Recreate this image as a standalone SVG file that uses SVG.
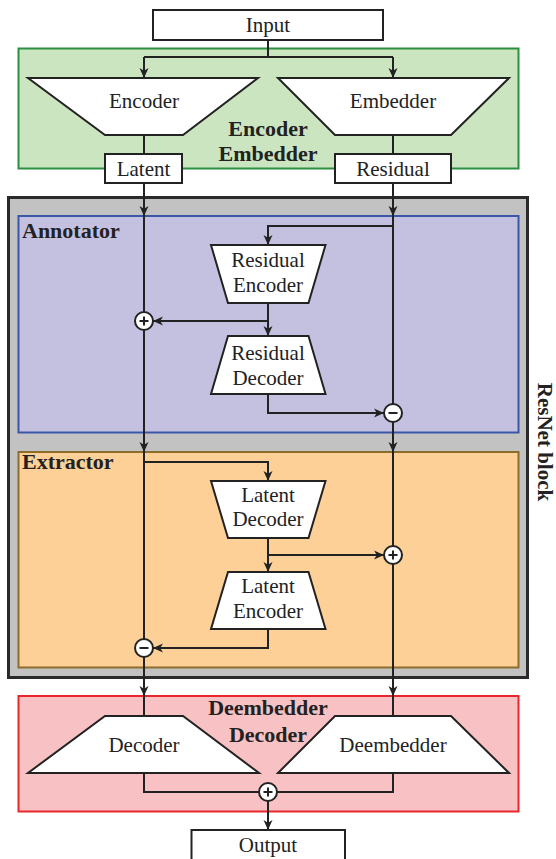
<svg xmlns="http://www.w3.org/2000/svg" width="556" height="859" viewBox="0 0 556 859">
<defs>
<marker id="ah" markerUnits="userSpaceOnUse" markerWidth="11" markerHeight="10" refX="10" refY="5" orient="auto">
<path d="M0,0.5 L10,5 L0,9.5 L2.8,5 Z" fill="#222"/>
</marker>
</defs>
<style>
.box{fill:#fff;stroke:#222;stroke-width:2}
.ln{fill:none;stroke:#222;stroke-width:2}
.ar{fill:none;stroke:#222;stroke-width:2;marker-end:url(#ah)}
.t{font-family:"Liberation Serif","Times New Roman",serif;font-size:21px;fill:#222;text-anchor:middle}
.b{font-family:"Liberation Serif","Times New Roman",serif;font-size:22px;font-weight:bold;fill:#222}
.c{text-anchor:middle}
.op{fill:#fff;stroke:#222;stroke-width:2}
</style>
<rect x="0" y="0" width="556" height="859" fill="#fff"/>

<g id="encoder-embedder-group">
<rect x="18.5" y="48.5" width="500" height="120" fill="#cbe5c1" stroke="#2a9040" stroke-width="2"/>
<text class="b c" x="268" y="135.5">Encoder</text>
<text class="b c" x="268" y="161">Embedder</text>
</g>
<g id="resnet-block">
<rect x="8.5" y="197.5" width="519" height="480" fill="#c2c2c2" stroke="#2a2a2a" stroke-width="3"/>
<text class="b c" style="font-size:21px" transform="translate(538,442) rotate(90)">ResNet block</text>
</g>
<g id="annotator">
<rect x="18.5" y="216" width="500" height="216.5" fill="#c4c1e0" stroke="#3a56a8" stroke-width="2"/>
<text class="b" x="22" y="238">Annotator</text>
</g>
<g id="extractor">
<rect x="18.5" y="452" width="500" height="215.5" fill="#fcd096" stroke="#8c6d2c" stroke-width="2"/>
<text class="b" x="22" y="469">Extractor</text>
</g>
<g id="deembedder-decoder-group">
<rect x="18.5" y="696" width="500" height="115.5" fill="#f8c1c3" stroke="#e8262c" stroke-width="2"/>
</g>

<g id="connectors">
<path class="ln" d="M268,40 V57 M144,57 H393"/>
<path class="ar" d="M144,57 V78"/>
<path class="ar" d="M393,57 V78"/>
<path class="ln" d="M144,135 V154 M393,135 V154"/>
<path class="ar" d="M144,183 V216"/>
<path class="ar" d="M393,183 V216"/>
<path class="ln" d="M144,216 V312"/>
<path class="ar" d="M144,330 V452"/>
<path class="ln" d="M393,216 V404"/>
<path class="ar" d="M393,422 V452"/>
<path class="ar" d="M393,226 H268 V245"/>
<path class="ar" d="M268,303 V336"/>
<path class="ar" d="M268,321 H153"/>
<path class="ar" d="M268,394 V413 H384"/>
<path class="ln" d="M144,452 V639"/>
<path class="ar" d="M144,657 V696"/>
<path class="ln" d="M393,452 V546"/>
<path class="ar" d="M393,564 V696"/>
<path class="ar" d="M144,462 H268 V481"/>
<path class="ar" d="M268,538 V572"/>
<path class="ar" d="M268,555 H384"/>
<path class="ar" d="M268,629 V648 H153"/>
<path class="ln" d="M144,696 V716 M393,696 V716"/>
<path class="ln" d="M144,773 V792 H259 M393,773 V792 H277"/>
<path class="ar" d="M268,801 V830"/>
</g>

<g id="input">
<rect class="box" x="153" y="10" width="230" height="30"/>
<text class="t" x="268" y="32">Input</text>
</g>
<g id="encoder">
<polygon class="box" points="28,78 258,78 183,135 105,135"/>
<text class="t" x="144" y="108">Encoder</text>
</g>
<g id="embedder">
<polygon class="box" points="278,78 509,78 451,135 335,135"/>
<text class="t" x="393" y="108">Embedder</text>
</g>
<g id="latent">
<rect class="box" x="105" y="154" width="77" height="29"/>
<text class="t" x="143.5" y="176">Latent</text>
</g>
<g id="residual">
<rect class="box" x="335" y="154" width="116" height="29"/>
<text class="t" x="393" y="176">Residual</text>
</g>
<g id="residual-encoder">
<polygon class="box" points="211,245 325.5,245 308.5,303 228,303"/>
<text class="t" x="268" y="267">Residual</text>
<text class="t" x="268" y="292">Encoder</text>
</g>
<g id="residual-decoder">
<polygon class="box" points="228,336 308.5,336 325.5,394 211,394"/>
<text class="t" x="268" y="360">Residual</text>
<text class="t" x="268" y="385">Decoder</text>
</g>
<g id="latent-decoder">
<polygon class="box" points="211,481 325.5,481 308.5,538 228,538"/>
<text class="t" x="268" y="502">Latent</text>
<text class="t" x="268" y="526">Decoder</text>
</g>
<g id="latent-encoder">
<polygon class="box" points="228,572 308.5,572 325.5,629 211,629"/>
<text class="t" x="268" y="593">Latent</text>
<text class="t" x="268" y="618">Encoder</text>
</g>
<g id="decoder">
<polygon class="box" points="105,716 183,716 259,773 28,773"/>
<text class="t" x="144" y="752">Decoder</text>
</g>
<g id="deembedder">
<polygon class="box" points="335,716 451,716 509,773 278,773"/>
<text class="t" x="393" y="752">Deembedder</text>
</g>
<g id="group-labels-red">
<text class="b c" x="268" y="715">Deembedder</text>
<text class="b c" x="268" y="742">Decoder</text>
</g>
<g id="add-annotator">
<circle class="op" cx="144" cy="321" r="9"/>
<path class="ln" d="M139.5,321 H148.5 M144,316.5 V325.5"/>
</g>
<g id="sub-annotator">
<circle class="op" cx="393" cy="413" r="9"/>
<path class="ln" d="M388.5,413 H397.5"/>
</g>
<g id="add-extractor">
<circle class="op" cx="393" cy="555" r="9"/>
<path class="ln" d="M388.5,555 H397.5 M393,550.5 V559.5"/>
</g>
<g id="sub-extractor">
<circle class="op" cx="144" cy="648" r="9"/>
<path class="ln" d="M139.5,648 H148.5"/>
</g>
<g id="add-output">
<circle class="op" cx="268" cy="792" r="9"/>
<path class="ln" d="M263.5,792 H272.5 M268,787.5 V796.5"/>
</g>
<g id="output">
<rect class="box" x="191.5" y="830" width="153.5" height="40"/>
<text class="t" x="268" y="852">Output</text>
</g>
</svg>
